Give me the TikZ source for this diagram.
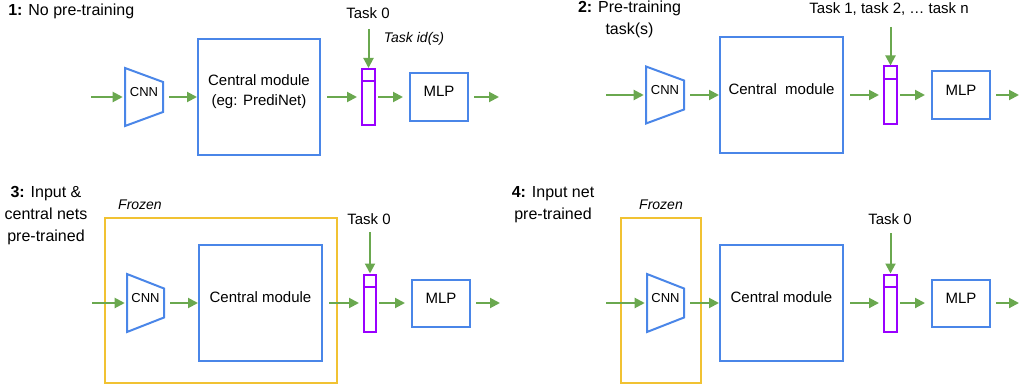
\documentclass[tikz,border=0pt]{standalone}
\usepackage{fontspec}
\setmainfont{Liberation Sans}
\usetikzlibrary{arrows.meta,fit}
\definecolor{gblue}{HTML}{4A86E8}
\definecolor{ggreen}{HTML}{6AA84F}
\definecolor{gpurple}{HTML}{9900FF}
\definecolor{gyellow}{HTML}{F1C232}
\tikzset{
 box/.style={draw=gblue, line width=1.5pt, inner sep=0pt, font=\fontsize{11.25}{15}\selectfont, align=center},
 cnnshape/.style={draw=gblue, line width=1.5pt, line join=miter},
 cnnbox/.style={draw=none, inner sep=0pt, font=\fontsize{9.75}{12}\selectfont},
 bar/.style={draw=gpurple, line width=1.5pt, inner sep=0pt},
 barline/.style={draw=gpurple, line width=1.5pt},
 frozenbox/.style={draw=gyellow, line width=1.5pt, inner sep=0pt},
 arr/.style={draw=ggreen, line width=1.5pt, -{Triangle[length=7.5pt,width=7.5pt]}},
 lbl/.style={font=\fontsize{11.25}{14}\selectfont, inner sep=0pt},
 ital/.style={font=\fontsize{10.5}{13}\selectfont\itshape, inner sep=0pt},
 ttl/.style={font=\fontsize{12}{16.5}\selectfont, inner sep=0pt, align=center},
}
\begin{document}
\begin{tikzpicture}[x=0.75pt,y=-0.75pt]
\useasboundingbox (0,0) rectangle (1020,385);

% ---------- Panel 1 ----------
\node[ttl, anchor=west] (t1) at (8,11) {\textbf{1:} No pre-training};
\node[lbl] (task1) at (368,13) {Task 0};
\node[ital] (id1) at (414,39) {Task id(s)};
\draw[cnnshape] (125,68) -- (163,82) -- (163,112) -- (125,126) -- cycle;
\node[cnnbox, fit={(125,68)(163,126)}] (cnn1) {CNN};
\node[box, fit={(198,39)(320,155)}] (cen1) {Central module\\(eg: PrediNet)};
\node[bar, fit={(362,69)(375,125)}] (bar1) {};
\draw[barline] (362,81) -- (375,81);
\node[box, fit={(410,73.5)(468,120.5)}] (mlp1) {MLP};
\coordinate (in1) at (91,97);
\coordinate (out1) at (499,97);
\coordinate (tk1) at (368.5,29);
\draw[arr, shorten >=1.5pt] (in1) -- (cnn1.west);
\draw[arr, shorten <=4.5pt] (cnn1.east) -- (cen1.west);
\draw[arr, shorten <=4.5pt, shorten >=3pt] (cen1.east) -- (bar1.west);
\draw[arr, shorten <=1.5pt, shorten >=4.5pt] (bar1.east) -- (mlp1.west);
\draw[arr, shorten <=4pt] (mlp1.east) -- (out1);
\draw[arr] (tk1) -- (bar1.north);

% ---------- Panel 2 ----------
\node[ttl] (t2) at (629.5,19) {\textbf{2:} Pre-training\\task(s)};
\node[lbl] (task2) at (889,9.5) {Task 1, task 2, … task n};
\draw[cnnshape] (646,66.5) -- (684,80.5) -- (684,109.5) -- (646,123.5) -- cycle;
\node[cnnbox, fit={(646,66.5)(684,123.5)}] (cnn2) {CNN};
\node[box, fit={(720,37)(843,153)}] (cen2) {Central~ module};
\node[bar, fit={(884,66.5)(897,123.5)}] (bar2) {};
\draw[barline] (884,79) -- (897,79);
\node[box, fit={(932,71.5)(990,118.5)}] (mlp2) {MLP};
\coordinate (in2) at (606,95);
\coordinate (out2) at (1019,95);
\coordinate (tk2) at (890.5,27);
\draw[arr, shorten >=1.5pt] (in2) -- (cnn2.west);
\draw[arr, shorten <=4.5pt] (cnn2.east) -- (cen2.west);
\draw[arr, shorten <=4.5pt, shorten >=3pt] (cen2.east) -- (bar2.west);
\draw[arr, shorten <=1.5pt, shorten >=4.5pt] (bar2.east) -- (mlp2.west);
\draw[arr, shorten <=4pt] (mlp2.east) -- (out2);
\draw[arr] (tk2) -- (bar2.north);

% ---------- Panel 3 ----------
\node[ttl] (t3) at (46,216) {\textbf{3:} Input \&\\central nets\\pre-trained};
\node[frozenbox, fit={(105,218)(337,383)}] (fr3) {};
\node[ital] (fz3) at (140,205) {Frozen};
\node[lbl] (task3) at (369,219) {Task 0};
\draw[cnnshape] (127,274) -- (164,288.5) -- (164,317.5) -- (127,332) -- cycle;
\node[cnnbox, fit={(127,274)(164,332)}] (cnn3) {CNN};
\node[box, fit={(199,245)(322,361)}] (cen3) {Central module};
\node[bar, fit={(364,274.5)(376,331.5)}] (bar3) {};
\draw[barline] (364,287) -- (376,287);
\node[box, fit={(412,279.5)(470,326.5)}] (mlp3) {MLP};
\coordinate (in3) at (92,303);
\coordinate (out3) at (500,303);
\coordinate (tk3) at (370,232);
\draw[arr, shorten >=1.5pt] (in3) -- (cnn3.west);
\draw[arr, shorten <=4.5pt] (cnn3.east) -- (cen3.west);
\draw[arr, shorten <=4.5pt, shorten >=3pt] (cen3.east) -- (bar3.west);
\draw[arr, shorten <=1.5pt, shorten >=4.5pt] (bar3.east) -- (mlp3.west);
\draw[arr, shorten <=4pt] (mlp3.east) -- (out3);
\draw[arr] (tk3) -- (bar3.north);

% ---------- Panel 4 ----------
\node[ttl] (t4) at (553,204.5) {\textbf{4:} Input net\\pre-trained};
\node[frozenbox, fit={(621,218)(701,383)}] (fr4) {};
\node[ital] (fz4) at (661,205) {Frozen};
\node[lbl] (task4) at (890,219) {Task 0};
\draw[cnnshape] (647,274) -- (684,288.5) -- (684,317.5) -- (647,332) -- cycle;
\node[cnnbox, fit={(647,274)(684,332)}] (cnn4) {CNN};
\node[box, fit={(720,245)(843,361)}] (cen4) {Central module};
\node[bar, fit={(884,274.5)(897,331.5)}] (bar4) {};
\draw[barline] (884,287) -- (897,287);
\node[box, fit={(932,279.5)(990,326.5)}] (mlp4) {MLP};
\coordinate (in4) at (606,303);
\coordinate (out4) at (1019,303);
\coordinate (tk4) at (890.5,233);
\draw[arr, shorten >=1.5pt] (in4) -- (cnn4.west);
\draw[arr, shorten <=4.5pt] (cnn4.east) -- (cen4.west);
\draw[arr, shorten <=4.5pt, shorten >=3pt] (cen4.east) -- (bar4.west);
\draw[arr, shorten <=1.5pt, shorten >=4.5pt] (bar4.east) -- (mlp4.west);
\draw[arr, shorten <=4pt] (mlp4.east) -- (out4);
\draw[arr] (tk4) -- (bar4.north);
\end{tikzpicture}
\end{document}
